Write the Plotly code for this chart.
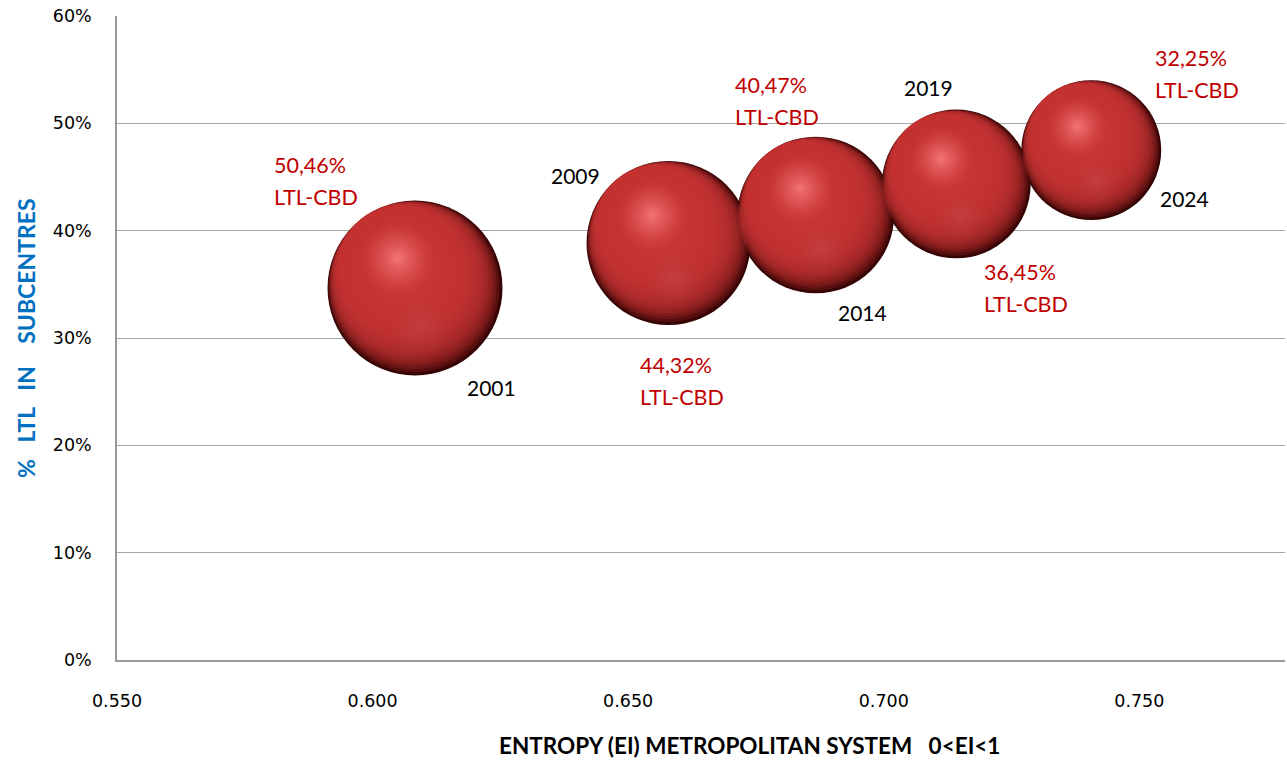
import numpy as np
import plotly.graph_objects as go

# ---------------- data ----------------
years = ["2001", "2009", "2014", "2019", "2024"]
entropy = [0.6083, 0.6579, 0.6867, 0.7142, 0.7406]
ltl_subcentres = [0.3466, 0.3885, 0.4146, 0.4435, 0.4750]
ltl_cbd = [50.46, 44.32, 40.47, 36.45, 32.25]
ltl_cbd_labels = ["50,46%", "44,32%", "40,47%", "36,45%", "32,25%"]
x_ticks = [0.55, 0.60, 0.65, 0.70, 0.75]
x_tick_labels = ["0.550", "0.600", "0.650", "0.700", "0.750"]
y_ticks = [0, 0.1, 0.2, 0.3, 0.4, 0.5, 0.6]
y_tick_labels = ["0%", "10%", "20%", "30%", "40%", "50%", "60%"]

# ---------------- layout constants ----------------
W, H = 1287, 762
ML, MR, MT, MB = 117, 2, 16, 102
PW, PH = W - ML - MR, H - MT - MB
XR = [0.55, 0.7785]
YR = [0.0, 0.60]
px_x = PW / (XR[1] - XR[0])
px_y = PH / (YR[1] - YR[0])
D_MAX = 175.0

x = np.array(entropy)
y = np.array(ltl_subcentres)
v = np.array(ltl_cbd)
D = D_MAX * np.sqrt(v / v.max())  # bubble diameters (area proportional to LTL-CBD)

fig = go.Figure()


def layer(dx_frac, dy_frac, size_frac, c_center, c_edge=None):
    # offsets as fractions of each bubble's diameter (pixels); negative dy = up
    xs = x + dx_frac * D / px_x
    ys = y - dy_frac * D / px_y
    marker = dict(size=D * size_frac, sizemode="diameter", opacity=1, line=dict(width=0))
    if c_edge is None:
        marker["color"] = c_center
    else:
        marker["color"] = c_edge
        marker["gradient"] = dict(type="radial", color=c_center)
    fig.add_trace(go.Scatter(x=xs, y=ys, mode="markers", hoverinfo="skip",
                             showlegend=False, marker=marker))


# base sphere (dark)
layer(0.0, 0.0, 1.00, "#6e1212", "#360404")
# stacked translucent discs tangent at the upper-left -> soft dark crescent bottom-right
ux, uy = -0.58, -0.815
for k in range(1, 17):
    s = 1.0 - 0.02 * k
    off = (1.0 - s) / 2.0
    layer(ux * off, uy * off, s, "rgba(196,52,52,0.21)")
# broad glow and specular highlight
layer(-0.07, -0.10, 0.78, "rgba(214,66,66,0.55)", "rgba(205,60,60,0)")
layer(-0.10, -0.17, 0.42, "rgba(248,128,128,0.85)", "rgba(228,86,86,0)")
# faint reflected light near the bottom
layer(0.03, 0.22, 0.36, "rgba(196,78,78,0.45)", "rgba(180,60,60,0)")

# real data trace (invisible markers, hover)
fig.add_trace(go.Scatter(
    x=x, y=y, mode="markers", showlegend=False,
    marker=dict(size=D, sizemode="diameter", color="rgba(0,0,0,0)", line=dict(width=0)),
    text=years, hovertemplate="%{text}<br>EI %{x:.3f}<br>%{y:.0%}<extra></extra>",
))

# ---------------- labels ----------------
year_off = [(50, -100), (-120, 68), (20, -97), (-54, 96), (67, -48)]
pct_off = [(-143, 107), (-31, -138), (-83, 114), (26, -104), (62, 76)]
LBL_FONT = "Lato, 'Open Sans', sans-serif"
annotations = []
for i in range(len(years)):
    annotations.append(dict(
        x=entropy[i], y=ltl_subcentres[i], xref="x", yref="y", text=years[i],
        showarrow=False, xanchor="left", yanchor="middle",
        xshift=year_off[i][0], yshift=year_off[i][1],
        font=dict(family=LBL_FONT, size=21, color="#000000")))
    for j, t in enumerate([ltl_cbd_labels[i], "LTL-CBD"]):
        annotations.append(dict(
            x=entropy[i], y=ltl_subcentres[i], xref="x", yref="y", text=t,
            showarrow=False, xanchor="left", yanchor="middle",
            xshift=pct_off[i][0], yshift=pct_off[i][1] + (16 if j == 0 else -16),
            font=dict(family=LBL_FONT, size=21.5, color="#c00000")))

NB = "\u00a0"
annotations.append(dict(
    x=(26 - ML) / PW, y=0.5, xref="paper", yref="paper",
    text=f"<b>%{NB}{NB}{NB}LTL{NB}{NB}{NB}IN{NB}{NB}{NB}{NB}SUBCENTRES</b>", textangle=-90,
    showarrow=False, xanchor="center", yanchor="middle",
    font=dict(family=LBL_FONT, size=23, color="#0070c0")))
annotations.append(dict(
    x=(749 - ML) / PW, y=(MT + PH - 745) / PH, xref="paper", yref="paper",
    text=f"<b>ENTROPY (EI) METROPOLITAN SYSTEM{NB}{NB}{NB}0&lt;EI&lt;1</b>",
    showarrow=False, xanchor="center", yanchor="middle",
    font=dict(family=LBL_FONT, size=22.5, color="#000000")))

fig.update_layout(
    width=W, height=H,
    margin=dict(l=ML, r=MR, t=MT, b=MB, pad=0),
    paper_bgcolor="white", plot_bgcolor="white",
    annotations=annotations,
    xaxis=dict(range=XR, tickmode="array", tickvals=x_ticks, ticktext=x_tick_labels,
               showgrid=False, zeroline=False, showline=True, linecolor="#9a9a9a",
               linewidth=1.5, ticks="", ticklabelstandoff=24,
               tickfont=dict(family="DejaVu Sans", size=17.5, color="#000000")),
    yaxis=dict(range=YR, tickmode="array", tickvals=y_ticks, ticktext=y_tick_labels,
               showgrid=True, gridcolor="#a6a6a6", gridwidth=1.2, zeroline=False,
               showline=True, linecolor="#9a9a9a", linewidth=1.5, ticks="",
               ticklabelstandoff=20,
               tickfont=dict(family="DejaVu Sans", size=17.5, color="#000000")),
)

fig.write_html("out.html")
